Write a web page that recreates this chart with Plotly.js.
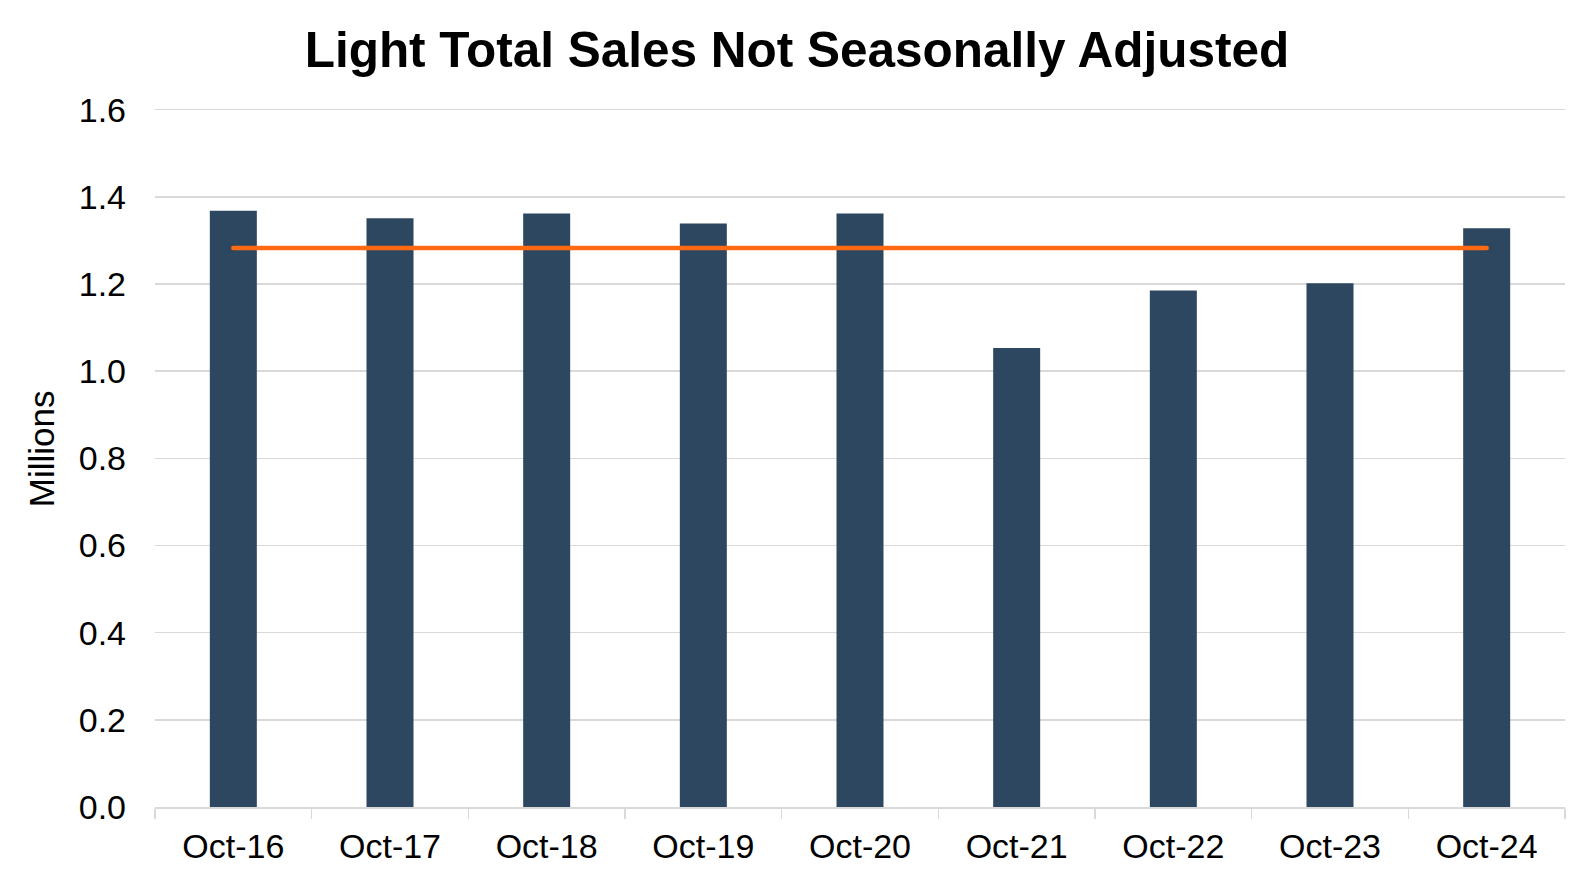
<!DOCTYPE html>
<html>
<head>
<meta charset="utf-8">
<script src="https://cdn.plot.ly/plotly-3.0.1.min.js"></script>
<style>
html, body { margin: 0; padding: 0; background: #fff; }
#chart { width: 1594px; height: 883px; }
.scatterlayer .js-line { stroke-linecap: round; }
</style>
</head>
<body>
<div id="chart"></div>
<script>
const categories = ["Oct-16", "Oct-17", "Oct-18", "Oct-19", "Oct-20", "Oct-21", "Oct-22", "Oct-23", "Oct-24"];
const sales = [1.368, 1.351, 1.362, 1.339, 1.362, 1.053, 1.185, 1.202, 1.328];
const average = [1.283, 1.283, 1.283, 1.283, 1.283, 1.283, 1.283, 1.283, 1.283];
const yTickValues = [0, 0.2, 0.4, 0.6, 0.8, 1.0, 1.2, 1.4, 1.6];
const yAxisTitle = "Millions";

const fontFamily = "Liberation Sans, Arial, Helvetica, sans-serif";

const traces = [
  {
    type: "bar",
    x: categories,
    y: sales,
    marker: { color: "#2D4760" },
    hoverinfo: "x+y",
    showlegend: false
  },
  {
    type: "scatter",
    mode: "lines",
    x: categories,
    y: average,
    line: { color: "#FF6A13", width: 4.5 },
    showlegend: false
  }
];

const layout = {
  width: 1594,
  height: 883,
  paper_bgcolor: "#ffffff",
  plot_bgcolor: "#ffffff",
  margin: { l: 155, r: 29, t: 108, b: 76 },
  bargap: 0.70,
  font: { family: fontFamily, color: "#000000", size: 34 },
  title: {
    text: "<b>Light Total Sales Not Seasonally Adjusted</b>",
    font: { family: fontFamily, size: 49.5, color: "#000000" },
    x: 0.5,
    xanchor: "center",
    y: 1 - 50 / 883,
    yanchor: "middle",
    yref: "container"
  },
  xaxis: {
    type: "category",
    tickson: "boundaries",
    ticks: "outside",
    ticklen: 10,
    tickwidth: 1.5,
    tickcolor: "#d9d9d9",
    showline: true,
    linecolor: "#d9d9d9",
    linewidth: 1.5,
    showgrid: false,
    ticklabelstandoff: 9,
    tickfont: { family: fontFamily, size: 34, color: "#000000" },
    fixedrange: true
  },
  yaxis: {
    range: [0, 1.604],
    tickvals: yTickValues,
    tickformat: ".1f",
    showgrid: true,
    gridcolor: "#d9d9d9",
    gridwidth: 1.5,
    zeroline: false,
    showline: false,
    ticks: "",
    ticklabelstandoff: 28,
    tickfont: { family: fontFamily, size: 34, color: "#000000" },
    fixedrange: true
  },
  annotations: [
    {
      text: yAxisTitle,
      textangle: -90,
      xref: "paper",
      yref: "paper",
      x: -0.0808,
      y: 0.512,
      xanchor: "center",
      yanchor: "middle",
      showarrow: false,
      font: { family: fontFamily, size: 35, color: "#000000" }
    }
  ]
};

Plotly.newPlot("chart", traces, layout, { displayModeBar: false, responsive: false, staticPlot: true });
</script>
</body>
</html>
